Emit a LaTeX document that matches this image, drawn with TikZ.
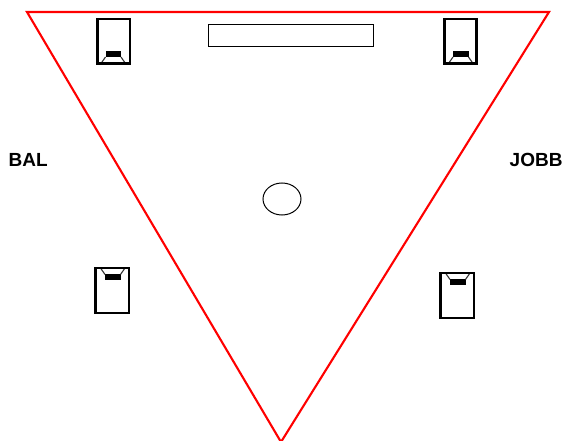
\documentclass[tikz,border=0pt]{standalone}
\usepackage{fontspec}
\setmainfont{Liberation Sans}
\tikzset{
  redline/.style={draw=red,line width=2.1pt,line join=miter},
  boxline/.style={draw=black,line width=2.2pt},
  thinline/.style={draw=black,line width=1pt},
  flare/.style={draw=black!80,line width=1.1pt},
  lbl/.style={font=\fontsize{19}{20}\selectfont\bfseries,inner sep=0pt,text=black}
}
% #1,#2 = top left; #3,#4 = bottom right; #5,#6 driver left/right; #7,#8 driver top/bottom; #9 edge y of the flare
\newcommand{\spkr}[9]{%
  \fill[black] (#5,#7) rectangle (#6,#8);
  \ifdim #9pt>#8pt
    \draw[flare] (#5,#8) -- (#5-4.5,#9) (#6,#8) -- (#6+4.5,#9);
  \else
    \draw[flare] (#5,#7) -- (#5-4.5,#9) (#6,#7) -- (#6+4.5,#9);
  \fi
  \draw[boxline] (#1,#2) rectangle (#3,#4);
}
\begin{document}
\begin{tikzpicture}[x=1pt,y=-1pt]
\useasboundingbox (0,0) rectangle (563,441);
\path[fill=white] (0,0) rectangle (563,441);
\begin{scope}
\clip (0,0) rectangle (563,441);
\draw[redline] (27,12) -- (549,12) -- (281,442) -- cycle;
\end{scope}
\spkr{97.5}{19}{130}{63.5}{105.5}{121}{51}{57}{63.5}
\spkr{444.5}{19}{476.5}{63.5}{453}{468.5}{51}{57}{63.5}
\spkr{95.5}{268}{129}{313}{105}{120.5}{274.5}{280.5}{268}
\spkr{440.5}{273}{474}{318}{450}{465.5}{279.5}{285.5}{273}
\draw[thinline] (208.5,24.5) rectangle (373.5,47);
\draw[thinline] (282,199) ellipse [x radius=19,y radius=16];
\node[lbl,anchor=west] (bal) at (8.5,160) {BAL};
\node[lbl,anchor=west] (jobb) at (509.5,160) {JOBB};
\end{tikzpicture}
\end{document}
